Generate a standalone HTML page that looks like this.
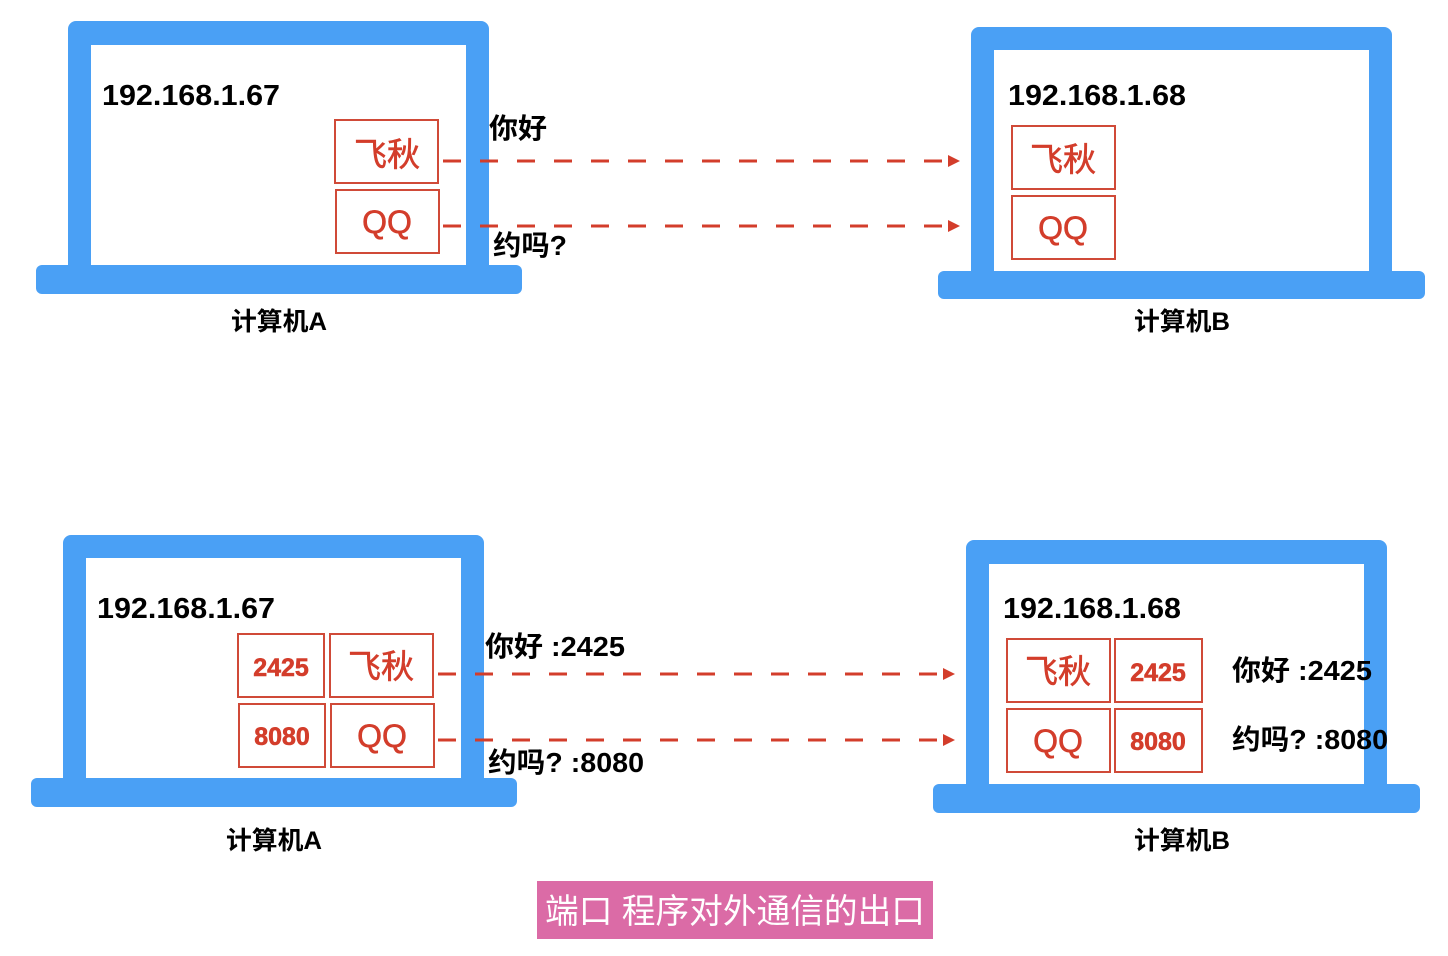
<!DOCTYPE html>
<html><head><meta charset="utf-8"><style>
html,body{margin:0;padding:0;background:#fff;width:1448px;height:956px;overflow:hidden}
svg text{font-family:"Liberation Sans","Noto Sans CJK SC",sans-serif}
</style></head><body>
<svg width="1448" height="956" xmlns="http://www.w3.org/2000/svg">
<defs>
<marker id="ar" markerWidth="12" markerHeight="12" refX="10" refY="6" orient="auto" markerUnits="userSpaceOnUse">
<path d="M0,0 L12,6 L0,12 Z" fill="#d33d2b"/></marker>
</defs>
<g fill="#4aa0f5">
<rect x="68" y="21" width="421" height="260" rx="8"/>
<rect x="36" y="265" width="486" height="29" rx="6"/>
<rect x="971" y="27" width="421" height="260" rx="8"/>
<rect x="938" y="271" width="487" height="28" rx="6"/>
<rect x="63" y="535" width="421" height="258" rx="8"/>
<rect x="31" y="778" width="486" height="29" rx="6"/>
<rect x="966" y="540" width="421" height="258" rx="8"/>
<rect x="933" y="784" width="487" height="29" rx="6"/>
</g>
<g fill="#fff">
<rect x="91" y="45" width="375" height="220"/>
<rect x="994" y="50" width="375" height="221"/>
<rect x="86" y="558" width="375" height="220"/>
<rect x="989" y="564" width="375" height="220"/>
</g>
<g fill="none" stroke="#d04a38" stroke-width="2">
<rect x="335" y="120" width="103" height="63"/>
<rect x="336" y="190" width="103" height="63"/>
<rect x="1012" y="126" width="103" height="63"/>
<rect x="1012" y="196" width="103" height="63"/>
<rect x="238" y="634" width="86" height="63"/>
<rect x="330" y="634" width="103" height="63"/>
<rect x="239" y="704" width="86" height="63"/>
<rect x="331" y="704" width="103" height="63"/>
<rect x="1007" y="639" width="103" height="63"/>
<rect x="1115" y="639" width="87" height="63"/>
<rect x="1007" y="709" width="103" height="63"/>
<rect x="1115" y="709" width="87" height="63"/>
</g>
<g stroke="#d33d2b" stroke-width="3" stroke-dasharray="18,19" marker-end="url(#ar)">
<line x1="443" y1="161" x2="958" y2="161"/>
<line x1="443" y1="226" x2="958" y2="226"/>
<line x1="438" y1="674" x2="953" y2="674"/>
<line x1="438" y1="740" x2="953" y2="740"/>
</g>
<g font-weight="bold" font-size="29" fill="#000" lengthAdjust="spacingAndGlyphs">
<text x="102" y="105" textLength="178" lengthAdjust="spacingAndGlyphs">192.168.1.67</text>
<text x="1008" y="105" textLength="178" lengthAdjust="spacingAndGlyphs">192.168.1.68</text>
<text x="97" y="618" textLength="178" lengthAdjust="spacingAndGlyphs">192.168.1.67</text>
<text x="1003" y="618" textLength="178" lengthAdjust="spacingAndGlyphs">192.168.1.68</text>
</g>
<g fill="#d33d2b" text-anchor="middle" stroke="#d33d2b" stroke-width="0.6">
<text x="387" y="166" font-size="33">飞秋</text>
<text x="387" y="233" font-size="32">QQ</text>
<text x="1063" y="171" font-size="33">飞秋</text>
<text x="1063" y="239" font-size="32">QQ</text>
<text x="281" y="676" font-size="25" font-weight="bold">2425</text>
<text x="381" y="678" font-size="33">飞秋</text>
<text x="282" y="745" font-size="25" font-weight="bold">8080</text>
<text x="382" y="747" font-size="32">QQ</text>
<text x="1058" y="683" font-size="33">飞秋</text>
<text x="1158" y="681" font-size="25" font-weight="bold">2425</text>
<text x="1058" y="752" font-size="32">QQ</text>
<text x="1158" y="750" font-size="25" font-weight="bold">8080</text>
</g>
<g font-size="28" fill="#000" font-weight="bold">
<text x="489" y="138" textLength="58" lengthAdjust="spacingAndGlyphs">你好</text>
<text x="493" y="255" textLength="74" lengthAdjust="spacingAndGlyphs">约吗?</text>
<text x="485" y="656" textLength="140" lengthAdjust="spacingAndGlyphs">你好 :2425</text>
<text x="488" y="772" textLength="156" lengthAdjust="spacingAndGlyphs">约吗? :8080</text>
<text x="1232" y="680" textLength="140" lengthAdjust="spacingAndGlyphs">你好 :2425</text>
<text x="1232" y="749" textLength="156" lengthAdjust="spacingAndGlyphs">约吗? :8080</text>
</g>
<g font-size="25" font-weight="bold" fill="#000">
<text x="231" y="330" textLength="96" lengthAdjust="spacingAndGlyphs">计算机A</text>
<text x="1134" y="330" textLength="96" lengthAdjust="spacingAndGlyphs">计算机B</text>
<text x="226" y="849" textLength="96" lengthAdjust="spacingAndGlyphs">计算机A</text>
<text x="1134" y="849" textLength="96" lengthAdjust="spacingAndGlyphs">计算机B</text>
</g>
<rect x="537" y="881" width="396" height="58" fill="#db6ba6"/>
<text x="545" y="923" font-size="34" fill="#fff" textLength="380" lengthAdjust="spacingAndGlyphs">端口 程序对外通信的出口</text>
</svg>
</body></html>
